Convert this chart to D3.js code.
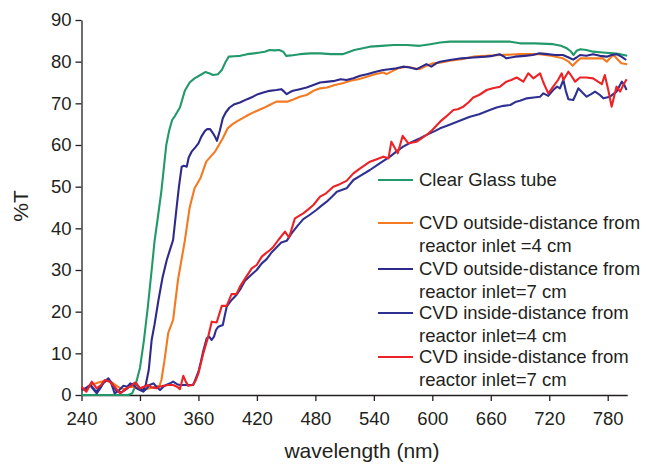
<!DOCTYPE html>
<html>
<head>
<meta charset="utf-8">
<script src="https://cdn.jsdelivr.net/npm/d3@7"></script>
<style>
  html, body { margin: 0; padding: 0; background: #fff; }
  svg { display: block; }
  text { font-family: "Liberation Sans", Arial, Helvetica, sans-serif; fill: #231f20; }
</style>
</head>
<body>
<svg id="chart" width="646" height="466"></svg>
<script>
// ---- data ----
const xTicks = [240, 300, 360, 420, 480, 540, 600, 660, 720, 780];
const yTicks = [0, 10, 20, 30, 40, 50, 60, 70, 80, 90];

const clearGlass = [[240,0],[250,0],[260,0],[270,0],[280,0],[288,0],[292,0.4],[295,2],[300,6.5],[304,13],[308,21],[312,30],[315,37],[318,42],[322,49],[327,60],[330,63.5],[333,66],[336,67],[341,69],[346,73],[351,75],[356,76],[362,76.8],[367,77.5],[371,77.2],[375,76.8],[380,77],[384,78],[388,80],[391,81.2],[397,81.3],[403,81.4],[410,81.8],[417,82],[423,82.2],[428,82.4],[433,82.8],[438,82.7],[443,82.8],[447,82.4],[450,81.4],[455,81.5],[464,81.8],[475,82],[485,82],[496,81.8],[508,81.8],[520,82.8],[536,83.6],[548,83.8],[560,84],[574,84],[587,83.8],[598,84.2],[608,84.6],[618,84.8],[628,84.8],[645,84.8],[660,84.8],[680,84.8],[690,84.4],[705,84.4],[724,84.2],[732,83.8],[738,83.2],[742,82.5],[745,81.6],[748,82.6],[752,83],[758,82.8],[765,82.4],[775,82.2],[786,82],[793,81.8],[800,81.4]];

const outside4 = [[240,1.5],[245,1.2],[250,2.5],[255,2.8],[260,3.2],[265,3.4],[270,3.2],[275,2.4],[280,1.6],[285,1.4],[290,2],[295,1.8],[300,1.6],[305,1.4],[310,1.6],[315,2],[320,2.2],[322,3.6],[325,8],[329,14.9],[334,18],[339,27.6],[346,37],[351,45],[356,49.6],[362,52],[368,56],[377,58.4],[385,61.6],[390,64],[395,65],[399,65.6],[405,66.4],[411,67.2],[418,68],[426,68.8],[433,69.6],[440,70.4],[445,70.4],[451,70.4],[458,71],[464,71.6],[471,72],[478,73],[485,73.6],[492,73.8],[500,74.4],[508,74.8],[516,75.4],[524,75.8],[533,76.4],[541,77],[550,77.4],[553,77],[558,77.6],[565,78.4],[574,78.8],[580,78.5],[587,78.2],[594,79],[601,79.6],[609,79.8],[618,80.2],[630,80.6],[642,81.2],[655,81.4],[670,81.6],[690,81.8],[710,81.8],[722,81.4],[734,80.8],[740,80],[744,79],[748,80],[752,80.8],[760,80.8],[770,80.8],[775,80.8],[779,80],[783,81],[786,81.6],[790,80.6],[794,79.6],[800,79.4]];

const outside7 = [[240,1.5],[245,1.2],[249,2.5],[255,0.8],[260,2],[263,3],[268,3.8],[272,2.5],[276,1],[281,0.6],[286,1.4],[291,2.6],[296,2.8],[300,1.6],[303,1],[306,2.5],[309,6],[312,13.2],[315,17],[319,22.8],[323,28],[327.5,32.4],[331,35],[334,37.2],[337.7,45.2],[340,50],[342.8,54.8],[345,55],[348,54.8],[350,57],[353,58.4],[357,59.5],[360,60.4],[363,62],[366.7,63.4],[369,63.8],[372,63.8],[375,62.8],[377,62],[379,61],[382,63.5],[385,66.4],[388,67.8],[392,69],[397,69.8],[402.6,70.2],[410,71],[416,71.6],[421,72.2],[426.6,72.6],[433,73],[440,73.2],[445,73.4],[448,72.8],[450.6,72.2],[454,72.7],[457,73],[464,73.4],[471,73.8],[478,74.4],[484.8,75],[493,75.2],[500,75.4],[506,75.8],[512,75.6],[519,76],[526,76.6],[533,77],[541,77.5],[549.7,78],[556,78.2],[563,78.4],[570,78.8],[577,78.6],[584,78.2],[589,78.8],[594,79.4],[599,78.8],[604,79.6],[608,80],[618,80.4],[630,80.8],[642,81],[655,81.2],[662,81.4],[669,81.8],[673,81.3],[676,80.8],[685,81.2],[695,81.4],[703,81.6],[710,82],[718,81.8],[726,81.6],[734,81.6],[740,81],[744.5,80.5],[748,81],[751.6,81.6],[758,81.4],[765,81.8],[772,81.4],[779,81.2],[784,81.6],[789,81.8],[794,81.2],[799,80.4]];

const inside4 = [[240,1.2],[244,1.6],[248.7,2.4],[252,1.4],[255.6,0.4],[259,1.5],[262,2.8],[267.5,4],[271,2.5],[274,0.4],[278,1],[283,2.2],[287,2],[290,2.8],[293,2.4],[296.6,1.6],[300,1.2],[303.4,0.8],[307,1.6],[310,2.4],[313.7,2.8],[317,2],[320.6,1.2],[324,2],[327,2.4],[331,2.8],[334,3.2],[338,2.6],[341,2.4],[345,2.4],[350,2.4],[354.7,2.4],[358,4.4],[360,5.6],[362.5,8],[365,10.6],[368.5,13.6],[371,14],[373.6,13.2],[376,14],[378,15.6],[380.4,16.4],[385,16.8],[387,19],[389,21.2],[394,22.8],[399,24],[403.5,25.6],[407.8,27.4],[414,28.8],[419.8,30],[425,31.6],[430,32.6],[435,34.2],[440,35.4],[445,36.6],[450.6,37],[455,38.6],[461,40.4],[467.6,42.2],[474,43.2],[481,44.4],[486,45.4],[491.6,46.4],[497,47.6],[502,48.8],[507,49.2],[512,49.6],[519,51.6],[526,52.6],[536,54],[546,55.6],[556.6,57.2],[563,58.4],[570,59.6],[578,60.6],[587,61.6],[592,62.2],[597.5,62.8],[603,63.4],[608,64],[615,64.6],[621.6,65.2],[630,66],[638.6,66.8],[648,67.4],[659,68.4],[666,69],[673,69.4],[680,69.6],[686,70.4],[690,70.6],[697,71.2],[704,71.4],[710.6,71.6],[714,72.4],[719,71.8],[724,73.2],[728,74],[731,73.6],[734.5,75.6],[737,73],[739.6,71],[744.6,70.8],[747,72],[749.8,73.6],[754,72.6],[758.4,71.6],[763,72.2],[767,72.8],[772,72],[775.5,71.2],[782.4,71.6],[789,72.8],[794.4,75.2],[797,74.4],[799.4,73.2]];

const inside7 = [[240,2],[245,0.8],[250.5,3.2],[255.6,1.6],[260,2.4],[264,3.6],[269,3.2],[274,2],[279.5,0.4],[283,1],[286,1.6],[291,2.2],[295,3],[300,1.6],[304,2],[308.5,2.4],[312,1.8],[317,1.6],[320,2],[324,2.2],[329,2.4],[334,2.4],[338,2],[341,1.4],[344.5,4.6],[347,3.2],[349.6,2.2],[354,2.4],[357,3.4],[360,5.2],[365,10],[370,14],[373.6,17.6],[378.7,17.4],[384,21.4],[389,21.4],[394,24.2],[399,24.2],[402.6,26],[408,28],[414.7,30.4],[419.8,31.2],[425,33.2],[429,34],[433.5,34.8],[437,35.6],[442,37.2],[448.8,39.2],[453,37.8],[459,42.4],[467.6,43.6],[473,44.6],[478,45.6],[484.8,47.6],[491,48.4],[498.4,50],[505,50.6],[512,51.4],[519,53.2],[526,54.4],[536,56],[543,56.6],[549.7,57.2],[555,56.8],[558,60.8],[564.5,58],[569.6,62.2],[575.4,60.4],[584,60.8],[589,61.6],[594,62.4],[600,63.6],[608,65.6],[614,66.8],[621.6,68.4],[626,68.6],[631.8,69.2],[637,70.2],[642,71.4],[648,72],[655.8,73.2],[662,73.6],[669.5,74],[676,75.2],[681,75.6],[686.6,76.2],[693.4,75.2],[698.5,77.2],[703.7,76],[710.6,77.2],[714,75],[719,72.4],[724,74],[729,75.6],[732.8,77.2],[734.5,75.6],[739.6,77.6],[743,76.5],[746.5,75.2],[751.6,76.2],[758,76.2],[765,76],[770,75.2],[774,74.6],[777,76.8],[780.6,73.2],[784,69.2],[789,74],[792.7,72.8],[796,74.4],[799.4,75.8]];

const seriesNames = [
  ["Clear Glass tube"],
  ["CVD outside-distance from", "reactor inlet =4 cm"],
  ["CVD outside-distance from", "reactor inlet=7 cm"],
  ["CVD inside-distance from", "reactor inlet=4 cm"],
  ["CVD inside-distance from", "reactor inlet=7 cm"]
];
const seriesData = [clearGlass, outside4, outside7, inside4, inside7];
const seriesColors = ["#22996a", "#f47a22", "#2e2a8c", "#2e3192", "#ec2227"];

// ---- layout ----
const svg = d3.select("#chart");
const x = d3.scaleLinear().domain([240, 800]).range([81.5, 627.2]);
const y = d3.scaleLinear().domain([0, 90]).range([395, 20]);

const ink = "#231f20";
const fontFam = "\"Liberation Sans\", Arial, Helvetica, sans-serif";

const xAxis = svg.append("g")
  .attr("transform", `translate(0,${y(0)})`)
  .call(d3.axisBottom(x).tickValues(xTicks).tickSize(6).tickSizeOuter(0).tickPadding(11));
const yAxis = svg.append("g")
  .attr("transform", `translate(${x(240)},0)`)
  .call(d3.axisLeft(y).tickValues(yTicks).tickSize(6).tickSizeOuter(0).tickPadding(4));

[xAxis, yAxis].forEach(g => {
  g.select(".domain").attr("stroke", ink).attr("stroke-width", 1.3);
  g.selectAll(".tick line").attr("stroke", ink).attr("stroke-width", 1.3);
  g.selectAll(".tick text")
    .attr("fill", ink)
    .style("font-size", "18.5px")
    .style("font-family", fontFam);
});

// lines
const line = d3.line().x(d => x(d[0])).y(d => y(d[1]));
const plot = svg.append("g");
seriesData.forEach((data, i) => {
  plot.append("path")
    .datum(data)
    .attr("fill", "none")
    .attr("stroke", seriesColors[i])
    .attr("stroke-width", 2.1)
    .attr("stroke-linejoin", "round")
    .attr("d", line);
});

// axis titles
svg.append("text")
  .attr("transform", `translate(28,206) rotate(-90)`)
  .attr("text-anchor", "middle")
  .style("font-size", "21px")
  .text("%T");
svg.append("text")
  .attr("x", 362)
  .attr("y", 458)
  .attr("text-anchor", "middle")
  .style("font-size", "21px")
  .text("wavelength (nm)");

// legend
const legendY = [180, 223, 269, 313, 357];
const lineH = 23;
const legend = svg.append("g");
seriesNames.forEach((lines, i) => {
  const yy = legendY[i];
  legend.append("line")
    .attr("x1", 378).attr("x2", 413)
    .attr("y1", yy).attr("y2", yy)
    .attr("stroke", seriesColors[i])
    .attr("stroke-width", 2.2);
  lines.forEach((t, j) => {
    legend.append("text")
      .attr("x", 419)
      .attr("y", yy + j * lineH)
      .attr("dy", "0.35em")
      .style("font-size", "18.5px")
      .text(t);
  });
});
</script>
</body>
</html>
